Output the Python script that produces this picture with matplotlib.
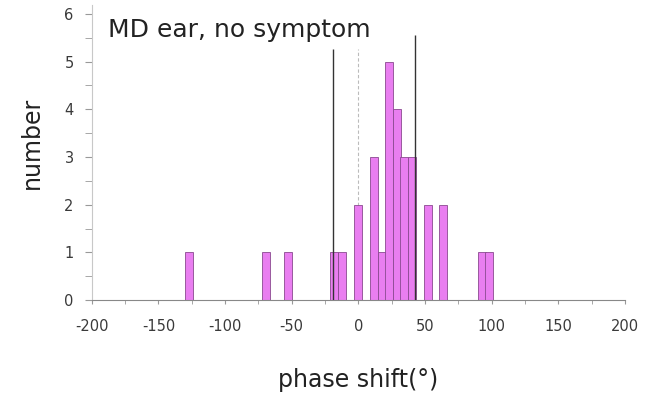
import matplotlib
matplotlib.use("Agg")
import matplotlib.pyplot as plt
from matplotlib.ticker import MultipleLocator

plt.rcParams['axes.unicode_minus'] = False

# histogram of phase shifts (bin centre in degrees, count per bin)
bin_centres = [-127.3, -69.0, -52.5, -18.3, -12.6, 0.0, 11.5, 17.4, 23.2,
               28.8, 34.3, 40.3, 52.2, 63.2, 92.5, 97.8]
counts = [1, 1, 1, 1, 1, 2, 3, 1, 5, 4, 3, 3, 2, 2, 1, 1]

# reference lines: lower/upper limits and zero
lower_limit = -19
upper_limit = 42.2
zero_line = 0

fig = plt.figure(figsize=(6.45, 3.95), dpi=100)
ax = fig.add_axes([0.1422, 0.2405, 0.827, 0.747])

ax.bar(bin_centres, counts, width=5.9, color='#e97ef0',
       edgecolor='#8a4a90', linewidth=0.6, zorder=2)

ax.vlines(lower_limit, 0, 5.26, color='#333333', linewidth=1.0, zorder=3)
ax.vlines(upper_limit, 0, 5.56, color='#333333', linewidth=1.0, zorder=3)
ax.vlines(zero_line, 0, 5.26, color='#bbbbbb', linewidth=0.8,
          linestyles=(0, (3, 2)), zorder=1)

ax.set_xlim(-200, 200)
ax.set_ylim(0, 6.19)
ax.xaxis.set_major_locator(MultipleLocator(50))
ax.xaxis.set_minor_locator(MultipleLocator(25))
ax.yaxis.set_major_locator(MultipleLocator(1))
ax.yaxis.set_minor_locator(MultipleLocator(0.5))

for side in ['top', 'right']:
    ax.spines[side].set_visible(False)
ax.spines['left'].set_color('#c8c8c8')
ax.spines['bottom'].set_color('#888888')

ax.tick_params(axis='both', which='both', colors='#999999', labelcolor='#3a3a3a',
               labelsize=10.5)
ax.tick_params(axis='y', which='both', length=5, pad=8)
ax.tick_params(axis='x', which='both', length=3, pad=11)

ax.set_xlabel('phase shift(°)', fontsize=17, color='#222222', labelpad=24)
ax.set_ylabel('number', fontsize=17, color='#222222', labelpad=15)
ax.yaxis.label.set_y(0.532)

ax.text(0.03, 0.955, 'MD ear, no symptom', transform=ax.transAxes,
        fontsize=18, color='#222222', va='top', ha='left')

fig.savefig('out.png', dpi=100)
